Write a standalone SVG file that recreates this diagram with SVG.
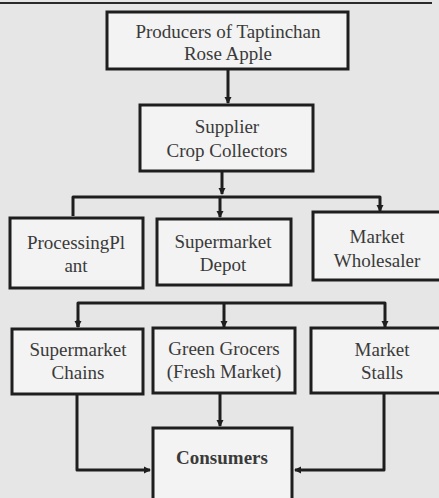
<svg xmlns="http://www.w3.org/2000/svg" width="439" height="498" viewBox="0 0 439 498">
<style>
.box{fill:#f3f3f3;stroke:#1e1e1e;stroke-width:3}
.t{font-family:"Liberation Serif","DejaVu Serif",serif;font-size:19px;fill:#3a3a3a;text-anchor:middle}
.c{fill:none;stroke:#1e1e1e;stroke-width:3;stroke-linejoin:round}
</style>
<defs>
<marker id="ah" markerWidth="8" markerHeight="8" refX="6" refY="4" orient="auto" markerUnits="userSpaceOnUse">
<path d="M0,0.5 L7,4 L0,7.5 Z" fill="#1e1e1e"/>
</marker>
</defs>
<rect width="439" height="498" fill="#e6e6e6"/>
<line x1="0" y1="3" x2="432" y2="3" stroke="#2a2a2a" stroke-width="2"/>
<g id="connectors">
<path class="c" d="M228,70 V103" marker-end="url(#ah)"/>
<path class="c" d="M222,171 V194" marker-end="url(#ah)"/>
<path class="c" d="M73,216 V197 H380 V211" marker-end="url(#ah)"/>
<path class="c" d="M220,197 V217" marker-end="url(#ah)"/>
<path class="c" d="M78,327 V303 H385 V327" marker-end="url(#ah)"/>
<path class="c" d="M78,320 V327" marker-end="url(#ah)"/>
<path class="c" d="M224,303 V327" marker-end="url(#ah)"/>
<path class="c" d="M77,395 V470 H150" marker-end="url(#ah)"/>
<path class="c" d="M220,394 V426" marker-end="url(#ah)"/>
<path class="c" d="M384,394 V470 H295" marker-end="url(#ah)"/>
</g>
<g id="producers">
<rect class="box" x="107" y="12" width="241" height="57"/>
<text class="t" x="228" y="38">Producers of Taptinchan</text>
<text class="t" x="228" y="60">Rose Apple</text>
</g>
<g id="supplier">
<rect class="box" x="140" y="105" width="173" height="66"/>
<text class="t" x="227" y="133">Supplier</text>
<text class="t" x="227" y="157">Crop Collectors</text>
</g>
<g id="processing">
<rect class="box" x="10" y="218" width="133" height="70"/>
<text class="t" x="76" y="249">ProcessingPl</text>
<text class="t" x="76" y="272">ant</text>
</g>
<g id="depot">
<rect class="box" x="157" y="219" width="134" height="66"/>
<text class="t" x="223" y="248">Supermarket</text>
<text class="t" x="223" y="271">Depot</text>
</g>
<g id="wholesaler">
<rect class="box" x="313" y="212" width="130" height="68"/>
<text class="t" x="377" y="243">Market</text>
<text class="t" x="377" y="267">Wholesaler</text>
</g>
<g id="chains">
<rect class="box" x="12" y="329" width="131" height="65"/>
<text class="t" x="78" y="356">Supermarket</text>
<text class="t" x="78" y="379">Chains</text>
</g>
<g id="grocers">
<rect class="box" x="153" y="328" width="142" height="65"/>
<text class="t" x="224" y="355">Green Grocers</text>
<text class="t" x="224" y="378">(Fresh Market)</text>
</g>
<g id="stalls">
<rect class="box" x="311" y="328" width="132" height="65"/>
<text class="t" x="382" y="356">Market</text>
<text class="t" x="382" y="379">Stalls</text>
</g>
<g id="consumers">
<rect class="box" x="153" y="428" width="139" height="80"/>
<text class="t" x="222" y="464" font-weight="bold">Consumers</text>
</g>
</svg>
